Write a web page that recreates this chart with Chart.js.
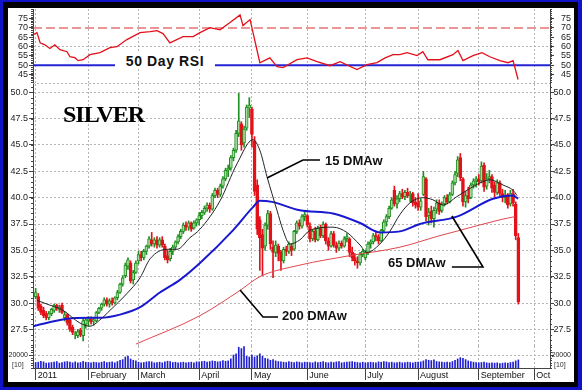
<!DOCTYPE html>
<html>
<head>
<meta charset="utf-8">
<title>Silver 2011</title>
<script src="https://cdn.jsdelivr.net/npm/chart.js@4/dist/chart.umd.min.js"></script>
<style>
  html, body { margin:0; padding:0; background:#fff; }
  #frame { position:relative; width:582px; height:390px; background:#1212c8; overflow:hidden; }
  #black { position:absolute; left:3px; top:2px; width:575px; height:385px; background:#000; }
  #white { position:absolute; left:8px; top:8px; width:566px; height:374px; background:#fff; }
  canvas { position:absolute; left:0; }
  .note { position:absolute; white-space:nowrap; color:#111; font-family:'Liberation Sans', Arial, sans-serif; font-weight:bold; }
  .tiny { position:absolute; white-space:nowrap; color:#333; font-family:'Liberation Sans', Arial, sans-serif; font-size:7px; line-height:7px; }
</style>
</head>
<body>
<div id="frame">
  <div id="black"></div>
  <div id="white"></div>
  <canvas id="rsi" width="582" height="75" style="top:9px"></canvas>
  <canvas id="price" width="582" height="262" style="top:84px"></canvas>
  <canvas id="vol" width="582" height="36" style="top:346px"></canvas>
  <div class="note" style="left:115px;top:53px;width:100px;height:16px;line-height:16px;font-size:14px;letter-spacing:0.6px;text-align:center;background:#fff;">50 Day RSI</div>
  <div class="note" style="left:63px;top:102px;font-family:'Liberation Serif','Times New Roman',serif;font-size:24px;line-height:24px;letter-spacing:-1px;color:#000;">SILVER</div>
  <div class="note" style="left:325px;top:154px;font-size:13px;line-height:13px;">15 DMAw</div>
  <div class="note" style="left:388px;top:256px;font-size:13px;line-height:13px;">65 DMAw</div>
  <div class="note" style="left:282px;top:309px;font-size:13px;line-height:13px;">200 DMAw</div>
  <div class="tiny" style="left:12px;top:361px;">[10]</div>
  <div class="tiny" style="left:554px;top:361px;">[10]</div>
</div>
<script>
// ---------------- data ----------------
const monthTickDays = [0, 20, 39, 62, 82, 103, 125, 145, 168, 189];
const monthLabels = ['2011', 'February', 'March', 'April', 'May', 'June', 'July', 'August', 'September', 'Oct'];

const priceTicks = [27.5, 30, 32.5, 35, 37.5, 40, 42.5, 45, 47.5, 50];
const rsiTicks = [45, 50, 55, 60, 65, 70, 75];
const volumeTicks = [20000];
const rsiHighLevel = 70;
const rsiMidLevel = 50;

const openP = [
  30.6,30.6,29.7,29.3,29.0,28.6,29.0,29.3,29.8,29.4,29.8,28.6,28.9,28.4,27.7,27.0,26.9,27.4,26.9,28.0,
  28.3,28.5,28.3,28.3,29.1,29.5,29.9,30.3,29.9,30.2,30.0,30.5,31.0,31.8,32.6,33.5,33.8,32.2,32.9,
  34.0,34.6,34.3,34.9,35.4,36.0,35.6,36.0,35.5,36.0,35.4,34.5,34.2,34.9,35.3,35.8,36.3,36.8,37.4,37.2,37.6,37.1,37.6,
  37.9,38.3,38.6,39.0,39.3,38.9,40.2,40.7,40.3,41.1,41.8,42.6,42.8,43.8,44.5,46.1,47.0,45.2,46.6,48.5,
  48.4,45.4,41.2,37.9,36.5,35.4,37.4,38.5,35.3,34.8,35.4,34.8,34.0,35.1,34.9,35.4,35.1,36.8,37.6,37.3,38.2,
  38.3,37.3,36.1,36.8,36.0,37.1,36.4,37.5,35.9,35.4,36.6,35.5,35.2,35.7,35.4,36.1,36.1,34.8,34.3,34.0,33.8,34.6,
  34.3,34.8,35.6,35.8,36.4,36.3,35.9,36.9,37.7,38.2,39.0,40.7,39.4,39.9,40.4,40.1,40.5,40.2,40.4,39.6,
  39.5,39.1,40.3,41.8,38.3,38.7,38.0,38.9,39.5,38.8,39.4,40.0,39.6,40.3,41.4,42.3,43.8,41.8,39.6,40.2,40.0,41.2,41.6,
  41.8,41.6,43.1,41.1,41.8,42.0,41.2,40.5,41.4,40.4,40.0,40.3,39.4,40.4,39.4,36.2
];
const highP = [
  31.4,30.9,29.9,29.6,29.2,29.2,29.5,29.9,29.9,29.8,30.0,29.2,29.0,28.5,27.9,27.3,27.5,27.6,28.5,28.5,
  28.7,28.7,28.6,29.2,29.6,30.0,30.5,30.5,30.4,30.5,30.6,31.2,31.9,32.6,33.8,34.3,34.0,33.1,34.0,
  34.9,34.9,35.1,35.5,36.3,36.7,36.2,36.3,36.2,36.3,35.6,35.0,35.2,35.5,35.9,36.5,37.0,37.6,37.7,37.8,37.7,37.8,38.0,
  38.6,38.8,39.2,39.5,39.5,40.4,40.9,40.9,41.3,42.0,42.8,43.1,44.0,44.7,46.4,49.9,47.2,46.8,48.8,49.5,
  48.6,45.8,41.7,38.2,37.0,37.6,38.8,38.7,35.9,35.9,35.6,35.0,35.3,35.4,35.8,35.6,36.9,37.8,37.9,38.4,38.6,
  38.4,37.6,37.0,37.2,37.3,37.4,37.7,37.6,36.2,36.8,36.8,35.8,35.9,35.9,36.3,36.6,36.2,35.3,34.7,34.4,34.8,35.1,
  35.0,35.8,36.0,36.6,36.7,36.5,37.0,37.9,38.4,39.2,40.0,41.1,40.2,40.6,40.8,40.7,40.9,40.6,40.5,40.0,
  40.4,39.9,42.5,41.9,39.0,39.2,39.1,39.8,39.8,39.6,40.2,40.3,40.5,41.6,42.5,43.9,44.2,41.9,40.6,41.0,41.4,41.8,42.0,
  42.2,43.4,43.3,42.3,42.6,42.2,41.5,41.7,41.6,40.8,40.7,40.4,40.7,40.8,39.6,36.6
];
const lowP = [
  30.4,29.3,28.9,28.6,28.4,28.4,28.8,29.1,29.3,29.1,29.0,28.3,27.9,27.3,27.0,26.6,26.7,26.8,26.4,27.6,
  27.8,28.0,27.9,28.2,29.0,29.3,29.7,29.7,29.6,29.8,29.9,30.3,30.9,31.6,32.4,33.2,31.9,31.8,32.8,
  33.7,34.0,34.1,34.6,35.2,35.4,35.3,35.2,35.3,35.3,34.1,33.8,34.0,34.6,35.1,35.6,36.1,36.6,36.9,36.9,36.8,37.0,37.3,
  37.4,38.0,38.4,38.7,38.6,38.8,40.0,40.0,40.1,40.9,41.6,42.0,42.6,43.5,44.3,45.8,44.5,44.8,46.4,47.6,
  44.8,40.2,36.5,33.1,32.6,35.0,37.0,35.1,32.4,34.4,34.0,33.1,33.8,34.5,34.7,34.5,35.0,36.6,37.0,37.1,37.8,
  37.2,35.8,35.9,35.8,35.9,36.2,36.2,35.6,35.0,35.3,35.3,34.8,35.0,35.2,35.3,35.8,34.4,34.0,33.6,33.3,33.6,34.4,
  34.1,34.6,35.2,35.6,35.9,35.6,35.8,36.7,37.3,38.0,38.9,39.2,39.0,39.6,39.9,39.8,40.0,39.6,39.2,39.0,
  38.8,38.8,40.2,37.8,37.4,37.6,37.2,38.5,38.4,38.6,39.2,39.4,39.5,40.2,41.2,42.0,41.6,39.2,39.1,39.5,39.9,40.9,41.0,
  41.2,41.4,40.6,40.8,41.4,40.5,40.0,40.3,40.2,39.6,39.5,39.0,39.2,39.2,36.0,29.9
];
const closeP = [
  31.0,29.5,29.1,28.8,28.6,29.0,29.4,29.8,29.5,29.6,29.1,28.9,28.1,27.5,27.2,27.1,27.3,27.0,28.3,28.4,
  28.5,28.2,28.4,29.1,29.5,29.9,30.3,29.9,30.2,30.0,30.5,31.0,31.8,32.4,33.6,34.1,32.1,32.9,33.8,
  34.6,34.3,34.9,35.4,36.1,35.6,36.0,35.5,36.0,35.5,34.3,34.1,34.9,35.3,35.8,36.3,36.8,37.4,37.2,37.6,37.0,37.6,37.9,
  38.3,38.6,39.0,39.3,38.9,40.2,40.7,40.3,41.1,41.8,42.6,42.8,43.8,44.5,46.1,47.3,45.0,46.5,48.6,48.8,
  46.0,40.6,37.0,36.2,35.2,37.4,38.5,35.6,34.8,35.5,34.7,34.0,35.1,34.9,35.6,35.0,36.8,37.6,37.3,38.2,38.4,
  37.4,36.1,36.8,36.0,37.1,36.4,37.5,35.9,35.4,36.6,35.5,35.2,35.7,35.4,36.1,36.3,34.8,34.3,34.0,33.8,34.6,34.9,
  34.8,35.6,35.8,36.4,36.3,35.9,36.9,37.7,38.2,39.0,39.8,39.4,39.9,40.4,40.1,40.5,40.2,40.3,39.5,39.3,
  39.1,39.7,42.0,38.2,38.6,38.0,38.8,39.5,38.7,39.4,40.0,39.6,40.3,41.4,42.2,43.6,41.9,39.6,40.2,39.9,41.2,41.6,41.8,
  41.5,43.0,41.0,41.8,42.0,40.9,40.5,41.4,40.4,40.0,40.2,39.3,40.4,39.5,36.4,30.1
];
const volume = [
  8500,9000,10500,9500,7500,8000,8500,9000,10000,7500,8500,9500,10000,9000,8000,9500,8000,8500,10500,9000,
  8500,8000,9000,8500,8000,9000,10000,8500,9000,9500,8000,10000,12000,13000,17000,18500,14000,12000,11000,
  9000,8000,8500,9500,10000,9500,8000,8500,9000,8000,9500,10500,10000,8500,9000,8000,8500,9000,8000,8500,9000,8000,9500,
  9500,10000,10500,9000,10000,11000,10500,9500,10000,11500,10500,11000,14000,20000,22000,32000,30000,33000,18000,17000,
  20000,17000,19000,22000,18000,15000,14000,12000,13000,11000,10000,9500,9000,8500,10000,9000,8500,9500,9000,8000,9000,
  9000,8500,8000,9500,8500,9000,10000,8500,8000,9000,8500,9500,10000,8000,8500,9000,9500,10000,9000,8500,8000,9000,
  8000,8500,9000,8500,8000,9500,9000,10000,9500,8500,9000,8000,8500,9000,8000,8500,9000,8500,8000,9000,
  9000,9500,11000,13000,12000,11500,12500,10000,9500,9000,8500,9000,8500,10000,12000,14000,16000,15000,13000,11000,10000,9000,8500,
  8000,8500,9000,8000,7500,8000,7500,8000,7000,7500,8000,7500,8500,9000,11000,12500
];

// moving averages (day index, value)
const ma15Days = [0.5,5.4,10.4,16.8,20.6,24.4,28.2,34.6,39.6,43.4,49.8,53.6,58.5,62.3,69.9,76.3,82.4,85.0,87.7,91.5,
  93.8,96.4,100.2,104.0,112.7,118.0,123.0,125.6,130.5,134.3,138.1,141.9,146.8,150.6,154.4,159.7,163.5,168.5,172.2,177.2,181.0,182.5];
const ma15Values = [30.25,29.8,29.3,28.1,27.8,28.4,29.3,30.9,32.4,34.2,35.1,35.1,36.2,37.0,39.7,43.2,45.5,44.5,42.0,38.8,
  36.9,35.6,36.0,36.9,37.2,36.7,35.5,34.8,35.6,36.8,38.4,39.5,40.0,39.8,39.3,40.1,40.7,41.4,41.7,41.2,40.7,40.2];
const ma65Days = [-1,11.9,20.6,24.4,32.0,39.6,47.1,54.7,62.3,74.8,82.4,85.0,89.6,100.2,112.7,123.0,130.5,138.1,145.7,159.7,173.4,181.0,182.9];
const ma65Values = [27.8,28.5,28.6,28.6,28.9,29.6,31.0,32.2,33.8,36.9,39.1,39.7,39.6,38.8,38.5,37.6,36.7,36.8,37.5,38.2,39.9,40.2,39.9];
const ma200Days = [38.0,62.3,77.5,85.0,100.2,119.2,138.1,153.3,160.9,176.0,181.7];
const ma200Values = [26.1,28.8,31.2,32.5,33.6,34.5,35.3,36.4,36.9,37.9,38.2];

const rsiDays = [-1,0.5,1.7,3.5,5.4,7.3,9.2,11.9,13.0,14.9,16.1,18.0,20.6,24.4,28.2,30.8,34.6,39.6,43.4,46.0,
  48.3,50.9,55.9,59.7,62.3,66.1,69.9,73.7,77.5,78.6,81.3,85.0,88.8,91.5,93.8,99.1,102.9,106.7,111.6,115.4,
  121.8,125.6,129.4,132.5,135.5,138.1,140.8,144.6,146.8,148.7,153.3,158.2,160.1,162.0,165.8,169.2,172.2,176.0,179.1,181.0,182.9];
const rsiValues = [66.4,67.5,62.1,61.0,59.0,61.0,58.4,57.3,54.6,54.1,52.5,53.0,55.7,56.8,59.5,60.0,63.8,67.5,68.0,68.6,
  67.0,62.0,65.4,65.4,67.5,70.2,69.0,72.9,77.0,71.3,74.5,51.4,54.0,49.3,48.8,53.0,54.0,52.0,49.8,52.0,
  47.7,50.4,51.5,54.0,55.7,55.7,56.8,55.2,57.3,53.0,53.0,55.7,57.9,52.5,55.2,56.8,54.6,52.5,51.4,52.5,42.4];

// ---------------- chart setup ----------------
const X_MIN = -1, X_MAX = 195;
const FONT = "'Liberation Sans Narrow','Arial Narrow','Liberation Sans',Arial,sans-serif";
const GRID = '#b4b4b4';
const AXIS = '#444';
const UP_LINE = '#1f8f1f', UP_FILL = '#a6dca0', DOWN = '#e3121a';

const annotationLeaders = [
  [[87.7, 41.87], [101.35, 43.57], [107.8, 43.57]],
  [[157.8, 38.26], [169.6, 33.42], [157.8, 33.42]],
  [[77.5, 31.23], [86.2, 28.67], [91.9, 28.67]]
];

const pts = (xs, ys) => xs.map((x, i) => ({ x: x, y: ys[i] }));
const days = closeP.map((_, i) => i);
const isUp = i => closeP[i] >= openP[i];

function noPad(s) { s.paddingTop = 0; s.paddingBottom = 0; s.paddingLeft = 0; s.paddingRight = 0; }

function xAxis(showLabels) {
  return {
    type: 'linear', min: X_MIN, max: X_MAX, offset: false,
    afterBuildTicks: s => { s.ticks = monthTickDays.map(v => ({ value: v })); },
    afterFit: s => { s.height = showLabels ? 14 : 0; noPad(s); },
    grid: { display: true, offset: false, color: GRID, lineWidth: 1, drawTicks: showLabels, tickLength: 12, tickColor: AXIS, tickWidth: 1 },
    border: { display: showLabels, color: AXIS, width: 1, dash: [2, 2] },
    ticks: {
      display: showLabels, autoSkip: false, maxRotation: 0, minRotation: 0, align: 'start', padding: -10, labelOffset: 2,
      color: '#111', font: { family: FONT, size: 9 },
      callback: (v, i) => monthLabels[i]
    }
  };
}

function yAxis(pos, min, max, ticks, fmt, gridOn, fontSize) {
  return {
    type: 'linear', axis: 'y', position: pos, min: min, max: max,
    afterBuildTicks: s => { s.ticks = ticks.map(v => ({ value: v })); },
    afterFit: s => { s.width = pos === 'left' ? 33 : 21; noPad(s); },
    grid: {
      drawOnChartArea: pos === 'left', drawTicks: true, tickLength: 4, tickColor: AXIS, lineWidth: 1,
      color: c => (c.tick && gridOn(c.tick.value)) ? GRID : 'rgba(0,0,0,0)'
    },
    border: { display: true, color: AXIS, width: 1, dash: [2, 2] },
    ticks: {
      autoSkip: false, color: '#222', padding: 1, crossAlign: pos === 'left' ? 'near' : 'far',
      font: { family: FONT, size: fontSize, lineHeight: 1 }, callback: v => fmt(v)
    }
  };
}

const minorTicks = {
  id: 'minorTicks',
  afterDraw(chart, args, opts) {
    const step = opts && opts.step;
    if (!step) return;
    const { ctx, chartArea: a } = chart;
    ['y', 'yR'].forEach(id => {
      const s = chart.scales[id];
      if (!s) return;
      ctx.save();
      ctx.strokeStyle = AXIS; ctx.lineWidth = 1;
      ctx.beginPath();
      for (let k = Math.ceil(s.min / step); k * step <= s.max + 1e-9; k++) {
        const y = Math.round(s.getPixelForValue(k * step)) + 0.5;
        if (s.position === 'left') { ctx.moveTo(a.left - 2, y); ctx.lineTo(a.left, y); }
        else { ctx.moveTo(a.right, y); ctx.lineTo(a.right + 2, y); }
      }
      ctx.stroke();
      ctx.restore();
    });
  }
};

const bottomRule = {
  id: 'bottomRule',
  afterDraw(chart) {
    const { ctx, chartArea: a } = chart;
    ctx.save();
    ctx.strokeStyle = GRID; ctx.lineWidth = 1; ctx.setLineDash([2, 2]);
    ctx.beginPath(); ctx.moveTo(a.left, a.bottom - 0.5); ctx.lineTo(a.right, a.bottom - 0.5); ctx.stroke();
    ctx.restore();
  }
};

const leaders = {
  id: 'leaders',
  afterDatasetsDraw(chart) {
    const { ctx } = chart;
    const xs = chart.scales.x, ys = chart.scales.y;
    ctx.save();
    ctx.strokeStyle = '#000'; ctx.lineWidth = 1.6;
    annotationLeaders.forEach(path => {
      ctx.beginPath();
      path.forEach((p, i) => {
        const px = xs.getPixelForValue(p[0]), py = ys.getPixelForValue(p[1]);
        if (i === 0) ctx.moveTo(px, py); else ctx.lineTo(px, py);
      });
      ctx.stroke();
    });
    ctx.restore();
  }
};

function baseOptions(extraPlugins) {
  return {
    responsive: false, animation: false, devicePixelRatio: 1, events: [],
    layout: { padding: { left: 0, right: 11, top: 0, bottom: 0 }, autoPadding: false },
    plugins: Object.assign({ legend: { display: false }, tooltip: { enabled: false } }, extraPlugins)
  };
}

// ---- RSI panel ----
new Chart(document.getElementById('rsi'), {
  type: 'line',
  data: {
    datasets: [
      { data: pts(rsiDays, rsiValues), borderColor: '#e3101a', borderWidth: 1.3, pointRadius: 0, tension: 0, order: 0 },
      { data: [{ x: X_MIN, y: rsiMidLevel }, { x: X_MAX, y: rsiMidLevel }], borderColor: '#2424d6', borderWidth: 2, pointRadius: 0, order: 1 },
      { data: [{ x: X_MIN, y: rsiHighLevel }, { x: X_MAX, y: rsiHighLevel }], borderColor: '#d82c2c', borderWidth: 1, borderDash: [9, 4], pointRadius: 0, order: 2 }
    ]
  },
  options: Object.assign(baseOptions({ minorTicks: { step: 1 } }), {
    scales: {
      x: xAxis(false),
      y: yAxis('left', 40, 80.17, rsiTicks, v => String(v), v => v === 60, 9),
      yR: yAxis('right', 40, 80.17, rsiTicks, v => String(v), v => false, 9)
    }
  }),
  plugins: [minorTicks, bottomRule]
});

// ---- price panel ----
new Chart(document.getElementById('price'), {
  type: 'bar',
  data: {
    datasets: [
      { type: 'line', label: '15 DMAw', data: pts(ma15Days, ma15Values), borderColor: '#222', borderWidth: 1, pointRadius: 0, cubicInterpolationMode: 'monotone', order: 0 },
      { type: 'line', label: '65 DMAw', data: pts(ma65Days, ma65Values), borderColor: '#1818d0', borderWidth: 2, pointRadius: 0, cubicInterpolationMode: 'monotone', order: 1 },
      { type: 'line', label: '200 DMAw', data: pts(ma200Days, ma200Values), borderColor: '#e0474c', borderWidth: 1, pointRadius: 0, cubicInterpolationMode: 'monotone', order: 2 },
      { type: 'bar', label: 'body', data: days.map(i => ({ x: i, y: [openP[i], closeP[i]] })), grouped: false, barThickness: 3,
        backgroundColor: c => isUp(c.dataIndex) ? UP_FILL : DOWN, borderColor: c => isUp(c.dataIndex) ? UP_LINE : DOWN,
        borderWidth: 1, borderSkipped: false, order: 3 },
      { type: 'bar', label: 'range', data: days.map(i => ({ x: i, y: [lowP[i], highP[i]] })), grouped: false, barThickness: 1,
        backgroundColor: c => isUp(c.dataIndex) ? UP_LINE : DOWN, borderWidth: 0, order: 4 }
    ]
  },
  options: Object.assign(baseOptions({ minorTicks: { step: 0.5 } }), {
    scales: {
      x: xAxis(false),
      y: yAxis('left', 25.92, 50.79, priceTicks, v => v.toFixed(1), v => true, 9),
      yR: yAxis('right', 25.92, 50.79, priceTicks, v => v.toFixed(1), v => false, 9)
    }
  }),
  plugins: [minorTicks, leaders]
});

// ---- volume panel ----
new Chart(document.getElementById('vol'), {
  type: 'bar',
  data: {
    datasets: [
      { type: 'bar', label: 'Volume', data: days.map(i => ({ x: i, y: volume[i] })), grouped: false, barThickness: 1, backgroundColor: '#1f1fd0' }
    ]
  },
  options: Object.assign(baseOptions({ minorTicks: { step: 4000 } }), {
    scales: {
      x: xAxis(true),
      y: yAxis('left', 0, 34000, volumeTicks, v => String(v), v => v === 20000, 7),
      yR: yAxis('right', 0, 34000, volumeTicks, v => String(v), v => false, 7)
    }
  }),
  plugins: [minorTicks]
});
</script>
</body>
</html>
